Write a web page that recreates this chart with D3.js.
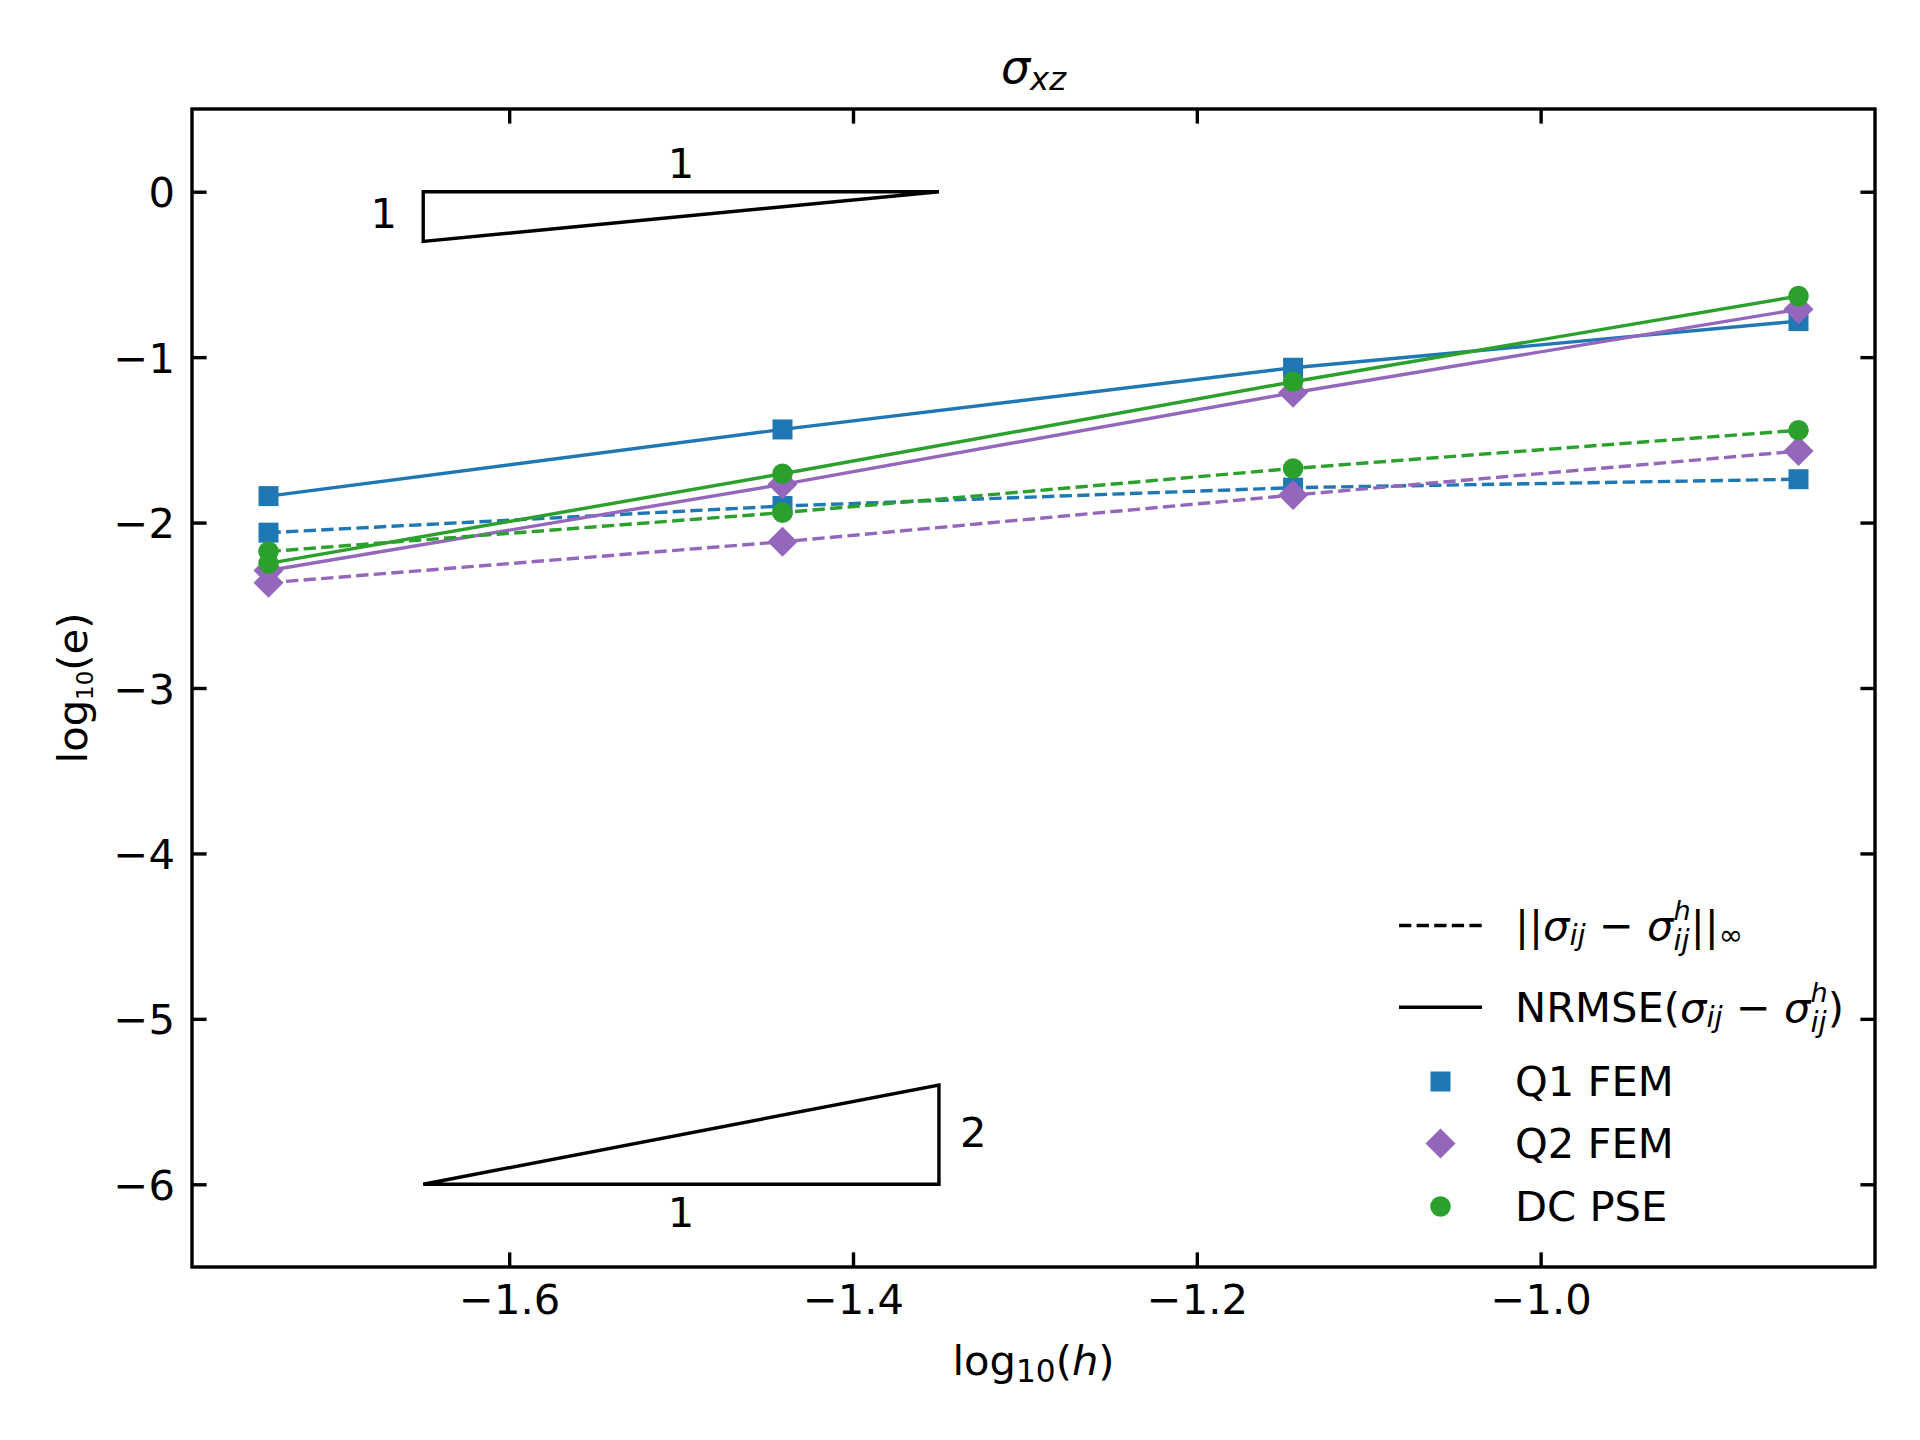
<!DOCTYPE html>
<html>
<head>
<meta charset="utf-8">
<script src="https://cdn.jsdelivr.net/npm/d3@7"></script>
<style>
  body{margin:0;background:#fff}
  text{font-family:"DejaVu Sans",sans-serif;fill:#000;white-space:pre}
</style>
</head>
<body>
<svg id="chart" width="1920" height="1440"></svg>
<script>
// values, log10(h) on x, log10(e) on y
var logH   =[-1.740,-1.441,-1.144,-0.850];
var q1Inf  =[-2.061,-1.900,-1.789,-1.738];
var q1Rms  =[-1.840,-1.437,-1.064,-0.782];
var q2Inf  =[-2.364,-2.116,-1.834,-1.568];
var q2Rms  =[-2.290,-1.769,-1.215,-0.711];
var dcInf  =[-2.175,-1.940,-1.673,-1.442];
var dcRms  =[-2.247,-1.705,-1.149,-0.631];

var xTicks=[-1.6,-1.4,-1.2,-1.0];
var yTicks=[0,-1,-2,-3,-4,-5,-6];
var yDomain=[-6.5,0.5];

// slope triangles (data coords) and their labels
var tri1=[[-1.65,0],[-1.35,0],[-1.65,-0.3]];
var tri2=[[-1.65,-6],[-1.35,-6],[-1.35,-5.4]];
var triLabels=[
  {x:-1.5,y:0.175,t:"1"},
  {x:-1.673,y:-0.128,t:"1"},
  {x:-1.5,y:-6.167,t:"1"},
  {x:-1.33,y:-5.682,t:"2"}
];

var series=[
  {name:"Q1 FEM",color:"#1f77b4",marker:"square",inf:q1Inf,rms:q1Rms},
  {name:"Q2 FEM",color:"#9467bd",marker:"diamond",inf:q2Inf,rms:q2Rms},
  {name:"DC PSE",color:"#2ca02c",marker:"circle",inf:dcInf,rms:dcRms}
];

var FS=41.67;      // 10pt @300dpi
var LW=3.4;
var DASH="12.3,5.3";
var axL=192,axR=1875,axT=109,axB=1267;

var svg=d3.select("#chart");
svg.append("rect").attr("width",1920).attr("height",1440).attr("fill","#fff");

var ext=d3.extent(logH),pad=(ext[1]-ext[0])*0.05;
var x=d3.scaleLinear().domain([ext[0]-pad,ext[1]+pad]).range([axL,axR]);
var y=d3.scaleLinear().domain(yDomain).range([axB,axT]);

// lay out a bit of "math" text out of pieces, returns width
function rich(g,parts,size){
  var cx=0,lastStart=0;
  parts.forEach(function(p){
    var start=p.back?lastStart:cx;
    var t=g.append("text")
      .attr("x",start).attr("y",p.dy||0)
      .attr("font-size",size*(p.s||1))
      .attr("font-style",p.it?"italic":"normal")
      .text(p.t);
    var w=t.node().getComputedTextLength();
    if(p.back){cx=Math.max(cx,start+w);}
    else{cx=start+w;}
    lastStart=start;
  });
  return cx;
}
function richCentered(g,parts,size){
  var inner=g.append("g");
  var w=rich(inner,parts,size);
  inner.attr("transform","translate("+(-w/2)+",0)");
}

// axes with inward ticks on all four sides
function styleAxis(g){
  g.select(".domain").remove();
  g.selectAll(".tick line").attr("stroke","#000").attr("stroke-width",LW);
  g.selectAll(".tick text").attr("font-size",FS).attr("fill","#000")
    .style("font-family","DejaVu Sans");
}
var TL=14.6;
svg.append("g").attr("transform","translate(0,"+axB+")")
  .call(d3.axisBottom(x).tickValues(xTicks).tickFormat(d3.format(".1f"))
    .tickSizeInner(-TL).tickSizeOuter(0).tickPadding(17.4))
  .call(styleAxis);
svg.append("g").attr("transform","translate(0,"+axT+")")
  .call(d3.axisTop(x).tickValues(xTicks).tickFormat("")
    .tickSizeInner(-TL).tickSizeOuter(0))
  .call(styleAxis);
svg.append("g").attr("transform","translate("+axL+",0)")
  .call(d3.axisLeft(y).tickValues(yTicks).tickFormat(d3.format("d"))
    .tickSizeInner(-TL).tickSizeOuter(0).tickPadding(17))
  .call(styleAxis)
  .selectAll(".tick text").attr("dy","0.36em");
svg.append("g").attr("transform","translate("+axR+",0)")
  .call(d3.axisRight(y).tickValues(yTicks).tickFormat("")
    .tickSizeInner(-TL).tickSizeOuter(0))
  .call(styleAxis);

// slope triangles
var tri=d3.line().x(function(d){return x(d[0]);}).y(function(d){return y(d[1]);});
[tri1,tri2].forEach(function(p){
  svg.append("path").attr("d",tri(p)+"Z").attr("fill","none")
    .attr("stroke","#000").attr("stroke-width",LW).attr("stroke-linejoin","miter");
});
svg.selectAll(".triLabel").data(triLabels).enter().append("text")
  .attr("class","triLabel")
  .attr("x",function(d){return x(d.x);}).attr("y",function(d){return y(d.y);})
  .attr("dy","0.36em").attr("text-anchor","middle").attr("font-size",FS)
  .text(function(d){return d.t;});

// data lines + markers
var line=d3.line().x(function(d,i){return x(logH[i]);}).y(function(d){return y(d);});
function markerPath(kind){
  if(kind==="square") return d3.symbol().type(d3.symbolSquare).size(400)();
  if(kind==="diamond") return d3.symbol().type(d3.symbolSquare).size(450)();
  return d3.symbol().type(d3.symbolCircle).size(333)();
}
function markerRot(kind){return kind==="diamond"?" rotate(45)":"";}

series.forEach(function(s){
  [["inf",DASH],["rms",null]].forEach(function(k){
    var vals=s[k[0]];
    svg.append("path").attr("d",line(vals)).attr("fill","none")
      .attr("stroke",s.color).attr("stroke-width",LW)
      .attr("stroke-dasharray",k[1]);
    svg.append("g").selectAll("path").data(vals).enter().append("path")
      .attr("d",markerPath(s.marker))
      .attr("transform",function(d,i){return "translate("+x(logH[i])+","+y(d)+")"+markerRot(s.marker);})
      .attr("fill",s.color);
  });
});

// frame
svg.append("rect").attr("x",axL).attr("y",axT)
  .attr("width",axR-axL).attr("height",axB-axT)
  .attr("fill","none").attr("stroke","#000").attr("stroke-width",LW);

// title and axis labels
var tg=svg.append("g").attr("transform","translate("+((axL+axR)/2)+",83)");
richCentered(tg,[{t:"σ",it:true},{t:"xz",it:true,s:0.7,dy:7}],46);

var xg=svg.append("g").attr("transform","translate("+((axL+axR)/2)+",1375)");
richCentered(xg,[{t:"log"},{t:"10",s:0.75,dy:7},{t:"("},{t:"h",it:true},{t:")"}],FS);

var yg=svg.append("g").attr("transform","translate(87,"+((axT+axB)/2)+") rotate(-90)");
richCentered(yg,[{t:"log"},{t:"10",s:0.55,dy:6},{t:"(e)"}],FS);

// legend (no frame)
var sub={t:"ij",it:true,s:0.7,dy:5};
var minus={t:"\u00a0\u2212\u00a0"};
var legendRows=[
  {kind:"dash",base:940,parts:[{t:"||"},{t:"σ",it:true},sub,minus,{t:"σ",it:true},
     {t:"h",it:true,s:0.65,dy:-20},{t:"ij",it:true,s:0.7,dy:10,back:true},{t:"||"},{t:"∞",s:0.7,dy:5}]},
  {kind:"solid",base:1021.7,parts:[{t:"NRMSE("},{t:"σ",it:true},sub,minus,{t:"σ",it:true},
     {t:"h",it:true,s:0.65,dy:-20},{t:"ij",it:true,s:0.7,dy:10,back:true},{t:")"}]},
  {kind:"marker",s:series[0],base:1096,parts:[{t:series[0].name}]},
  {kind:"marker",s:series[1],base:1158,parts:[{t:series[1].name}]},
  {kind:"marker",s:series[2],base:1221,parts:[{t:series[2].name}]}
];
var hx0=axR-476,hx1=hx0+83,tx=1515;
legendRows.forEach(function(r){
  var cy=r.base-14.5;
  if(r.kind==="dash"||r.kind==="solid"){
    svg.append("line").attr("x1",hx0).attr("x2",hx1).attr("y1",cy).attr("y2",cy)
      .attr("stroke","#000").attr("stroke-width",LW)
      .attr("stroke-dasharray",r.kind==="dash"?DASH:null);
  } else {
    svg.append("path").attr("d",markerPath(r.s.marker))
      .attr("transform","translate("+((hx0+hx1)/2)+","+cy+")"+markerRot(r.s.marker))
      .attr("fill",r.s.color);
  }
  var g=svg.append("g").attr("transform","translate("+tx+","+r.base+")");
  rich(g,r.parts,FS);
});
</script>
</body>
</html>
